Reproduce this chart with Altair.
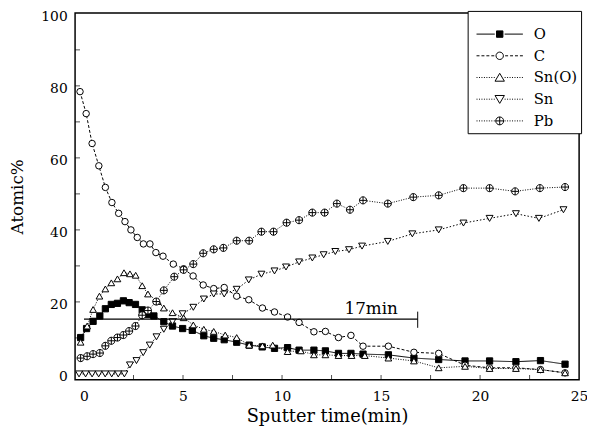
import altair as alt
import pandas as pd

series = ["O", "C", "Sn(O)", "Sn", "Pb"]

O_t = [-0.17, 0.13, 0.46, 0.80, 1.08, 1.38, 1.69, 1.99, 2.28, 2.60, 2.94, 3.23, 3.53, 4.03, 4.47, 4.98, 5.47, 6.05, 6.55, 7.08, 7.71, 8.34, 9.0, 9.62, 10.28, 10.86, 11.61, 12.19, 12.85, 13.48, 14.09, 15.37, 16.66, 17.91, 19.24, 20.48, 21.81, 23.05, 24.29]
O_v = [10.1, 12.6, 14.6, 16.1, 18.1, 19.3, 19.6, 20.3, 19.8, 19.3, 17.8, 16.5, 16.1, 14.5, 13.3, 12.6, 12.1, 10.6, 9.9, 9.5, 8.8, 8.0, 7.5, 7.1, 7.3, 6.6, 6.6, 6.4, 5.7, 5.7, 5.5, 5.3, 4.4, 4.0, 3.6, 3.6, 3.4, 3.7, 2.7]

C_t = [-0.2, 0.11, 0.41, 0.75, 1.08, 1.41, 1.75, 2.07, 2.37, 2.69, 3.0, 3.33, 3.63, 3.99, 4.51, 5.03, 5.51, 6.02, 6.55, 7.08, 7.71, 8.32, 9.01, 9.62, 10.28, 10.86, 11.61, 12.19, 12.85, 13.48, 14.09, 15.37, 16.66, 17.91, 19.24, 20.48, 21.81, 23.05, 24.29]
C_v = [78.4, 72.3, 64.0, 57.8, 51.8, 47.6, 44.6, 42.3, 40.0, 37.9, 36.1, 36.1, 33.7, 32.7, 30.5, 29.2, 27.2, 24.7, 23.7, 24.0, 21.6, 20.6, 18.3, 17.2, 15.8, 14.3, 11.7, 11.8, 10.1, 10.7, 7.7, 7.7, 6.0, 5.7, 2.4, 1.7, 1.7, 1.2, 0.3]

SnO_t = [-0.17, 0.16, 0.46, 0.78, 1.08, 1.38, 1.69, 2.02, 2.32, 2.61, 2.94, 3.23, 3.73, 4.03, 4.47, 5.03, 5.52, 6.05, 6.55, 7.13, 7.71, 8.34, 9.01, 9.53, 10.28, 10.95, 11.61, 12.19, 12.85, 13.51, 14.18, 15.37, 16.66, 17.91, 19.24, 20.48, 21.81, 23.05, 24.29]
SnO_v = [8.8, 13.3, 17.9, 21.6, 23.6, 25.3, 26.4, 28.1, 27.8, 27.4, 24.5, 22.2, 20.1, 18.3, 17.0, 15.6, 13.6, 12.4, 11.8, 10.8, 10.1, 8.0, 7.8, 8.0, 6.2, 6.4, 5.3, 5.3, 5.1, 5.1, 5.1, 4.4, 3.6, 1.7, 2.1, 1.5, 1.5, 1.2, 0.3]

Sn_t = [-0.25, 0.08, 0.41, 0.74, 1.07, 1.4, 1.73, 2.04, 2.32, 2.65, 2.99, 3.32, 3.66, 4.03, 4.47, 4.98, 5.52, 6.05, 6.55, 7.08, 7.71, 8.32, 8.96, 9.62, 10.2, 10.86, 11.53, 12.1, 12.69, 13.38, 14.04, 15.34, 16.58, 17.91, 19.16, 20.48, 21.81, 22.97, 24.21]
Sn_v = [0.0, 0.0, 0.0, 0.0, 0.0, 0.0, 0.0, 0.0, 2.5, 3.7, 5.9, 8.0, 10.3, 12.4, 14.5, 16.7, 18.5, 20.8, 22.2, 22.2, 23.5, 26.1, 27.7, 28.6, 29.7, 31.1, 32.2, 33.1, 34.0, 34.5, 35.5, 36.8, 38.9, 40.0, 41.9, 43.2, 44.5, 43.2, 45.6]

Pb_t = [-0.17, 0.16, 0.46, 0.80, 1.08, 1.38, 1.69, 1.99, 2.28, 2.60, 2.94, 3.23, 3.65, 4.03, 4.56, 5.03, 5.52, 6.02, 6.55, 7.04, 7.71, 8.34, 8.96, 9.57, 10.23, 10.86, 11.53, 12.15, 12.77, 13.43, 14.09, 15.34, 16.63, 17.91, 19.16, 20.48, 21.77, 23.02, 24.29]
Pb_v = [4.4, 4.9, 5.5, 5.8, 7.8, 9.2, 10.1, 10.8, 11.9, 13.3, 16.3, 17.6, 20.1, 23.2, 27.0, 28.9, 30.5, 33.5, 34.6, 35.0, 37.0, 37.0, 39.5, 39.5, 42.0, 42.7, 44.8, 44.8, 47.3, 45.6, 48.2, 47.3, 49.1, 49.6, 51.6, 51.6, 50.7, 51.6, 51.9]

x_ticks = [0, 5, 10, 15, 20, 25]
y_ticks = [0, 20, 40, 60, 80, 100]
x_minor = [2.5, 5, 7.5, 10, 12.5, 15, 17.5, 20, 22.5]
y_minor = [10, 20, 30, 40, 50, 60, 70, 80, 90]

bar_x0 = [0]
bar_x1 = [16.85]
bar_y = [15.2]
bar_cap_lo = [12.8]
bar_cap_hi = [17.3]
bar_label = ["17min"]
bar_label_x = [14.5]

rows = []
for name, ts, vs in [("O", O_t, O_v), ("C", C_t, C_v), ("Sn(O)", SnO_t, SnO_v),
                     ("Sn", Sn_t, Sn_v), ("Pb", Pb_t, Pb_v)]:
    for t, v in zip(ts, vs):
        rows.append({"series": name, "t": t, "v": v})
df = pd.DataFrame(rows)

FONT = "DejaVu Serif"
W, H = 511, 372

xs = alt.Scale(domain=[-0.45, 25.0], nice=False, zero=False)
ys = alt.Scale(domain=[-1.64, 100.27], nice=False, zero=False)

x_enc = alt.X("t:Q", scale=xs, axis=alt.Axis(
    values=x_ticks, title="Sputter time(min)", ticks=False, domain=False, grid=False,
    labelFont=FONT, labelFontSize=14, labelColor="black", labelPadding=10, labelFlush=False,
    titleFont=FONT, titleFontSize=18, titleFontWeight="normal", titleColor="black", titlePadding=4))
y_enc = alt.Y("v:Q", scale=ys, axis=alt.Axis(
    values=y_ticks, title="Atomic%", ticks=False, domain=False, grid=False,
    labelFont=FONT, labelFontSize=14, labelColor="black", labelPadding=8, labelOffset=3,
    labelFlush=False,
    titleFont=FONT, titleFontSize=17, titleFontWeight="normal", titleColor="black", titlePadding=15))

dash_range = [[1, 0], [3, 2], [1, 1.5], [1.5, 2], [1, 1.5]]
fill_range = ["black", "white", "white", "white", "white"]
stroke_range = ["black"] * 5
cross_circle = "M-1,0A1,1 0 1,1 1,0A1,1 0 1,1 -1,0ZM-1,0H1M0,-1V1"
shape_range = ["square", "circle", "triangle-up", "triangle-down", cross_circle]
size_range = [40, 52, 68, 68, 60]


def segs(kind):
    # short horizontal pieces either side of the legend marker
    if kind == "solid":
        return "M-4.7,0H-1M1,0H4.7"
    out = []
    dash, gap = (0.6, 0.4) if kind == "dash" else (0.2, 0.3)
    p = -4.7
    while p + dash <= -1.0:
        out.append("M%.2f,0H%.2f" % (p, p + dash))
        out.append("M%.2f,0H%.2f" % (-p - dash, -p))
        p += dash + gap
    return "".join(out)


legend_paths = [
    segs("solid") + "M-0.65,-0.65H0.65V0.65H-0.65Z",
    segs("dash") + "M-0.75,0A0.75,0.75 0 1,1 0.75,0A0.75,0.75 0 1,1 -0.75,0Z",
    segs("dot") + "M0,-0.85L0.95,0.75L-0.95,0.75Z",
    segs("dot") + "M0,0.85L0.95,-0.75L-0.95,-0.75Z",
    segs("dot") + "M-0.8,0A0.8,0.8 0 1,1 0.8,0A0.8,0.8 0 1,1 -0.8,0ZM-0.8,0H0.8M0,-0.8V0.8",
]

base = alt.Chart(df)

lines = base.mark_line(color="black", strokeWidth=1).encode(
    x=x_enc, y=y_enc, detail="series:N",
    strokeDash=alt.StrokeDash("series:N", scale=alt.Scale(domain=series, range=dash_range), legend=None),
)

points = base.mark_point(filled=True, stroke="black", strokeWidth=1, opacity=1).encode(
    x=x_enc, y=y_enc,
    shape=alt.Shape("series:N", scale=alt.Scale(domain=series, range=shape_range), legend=None),
    fill=alt.Fill("series:N", scale=alt.Scale(domain=series, range=fill_range), legend=None),
    size=alt.Size("series:N", scale=alt.Scale(domain=series, range=size_range), legend=None),
)

leg_common = dict(
    title=" ", titleFontSize=6, titlePadding=6, orient="none", legendX=398, legendY=-2,
    strokeColor="black", fillColor="white", padding=4, rowPadding=6,
    symbolSize=100, symbolStrokeColor="black", symbolStrokeWidth=1, symbolOpacity=1,
    symbolOffset=21, labelOffset=27, labelFont=FONT, labelFontSize=15, labelColor="black",
    cornerRadius=0,
)

legend_layer = base.transform_filter("false").mark_point(
    filled=False, strokeWidth=1, opacity=1
).encode(
    x=x_enc, y=y_enc,
    shape=alt.Shape("series:N", scale=alt.Scale(domain=series, range=legend_paths),
                    legend=alt.Legend(**leg_common)),
    fill=alt.Fill("series:N", scale=alt.Scale(domain=series, range=fill_range),
                  legend=alt.Legend(**leg_common)),
    stroke=alt.Stroke("series:N", scale=alt.Scale(domain=series, range=stroke_range),
                      legend=alt.Legend(**leg_common)),
)

xt = alt.Chart(pd.DataFrame({"t": x_minor})).mark_tick(
    orient="vertical", size=5, thickness=1, color="black"
).encode(x=alt.X("t:Q", scale=xs), y=alt.value(H - 2.5))

yt = alt.Chart(pd.DataFrame({"v": y_minor})).mark_tick(
    orient="horizontal", size=5, thickness=1, color="black"
).encode(y=alt.Y("v:Q", scale=ys), x=alt.value(2.5))

ann_df = pd.DataFrame({"x0": bar_x0, "x1": bar_x1, "y": bar_y, "lo": bar_cap_lo,
                       "hi": bar_cap_hi, "label": bar_label, "lx": bar_label_x})
ann = alt.Chart(ann_df)
bar = ann.mark_rule(color="black", strokeWidth=1.3).encode(
    x=alt.X("x0:Q", scale=xs), x2="x1:Q", y=alt.Y("y:Q", scale=ys))
cap = ann.mark_rule(color="black", strokeWidth=1).encode(
    x=alt.X("x1:Q", scale=xs), y=alt.Y("lo:Q", scale=ys), y2="hi:Q")
txt = ann.mark_text(font=FONT, fontSize=17, baseline="bottom", align="center", dy=-1,
                    color="black").encode(
    x=alt.X("lx:Q", scale=xs), y=alt.Y("y:Q", scale=ys), text="label:N")

chart = alt.layer(lines, points, legend_layer, xt, yt, bar, cap, txt).resolve_scale(
    shape="independent", fill="independent", stroke="independent"
).properties(
    width=W, height=H,
    padding={"left": 68, "top": 2, "right": 8, "bottom": 54},
    autosize=alt.AutoSizeParams(type="none"),
).configure_view(stroke="black", strokeWidth=1.5)

chart.save("out.html", embed_options={"renderer": "svg", "actions": False})
